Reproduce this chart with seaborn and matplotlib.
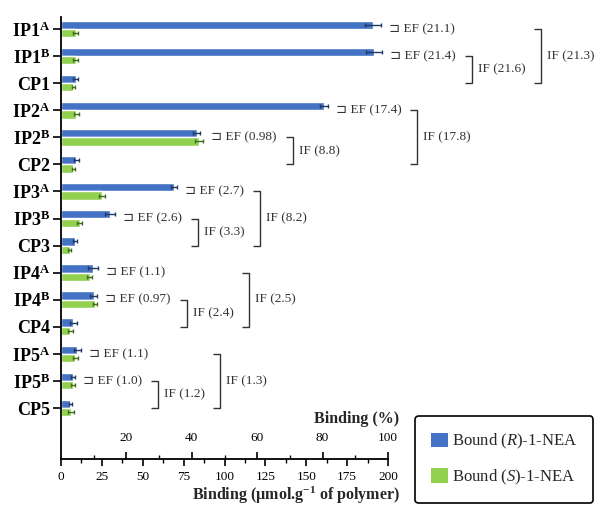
import matplotlib
matplotlib.use("Agg")
import matplotlib.pyplot as plt
import seaborn as sns
import pandas as pd
import numpy as np
from matplotlib.ticker import MultipleLocator, FixedLocator
from matplotlib.patches import Patch

# ---------------- data ----------------
categories = ["IP1A", "IP1B", "CP1", "IP2A", "IP2B", "CP2", "IP3A", "IP3B", "CP3",
              "IP4A", "IP4B", "CP4", "IP5A", "IP5B", "CP5"]
bound_R = [191, 191.5, 9.0, 161, 83, 9.3, 69, 30, 8.6, 19.6, 20.0, 7.5, 10.0, 7.3, 5.8]
bound_S = [9.0, 8.9, 7.5, 9.3, 84.5, 7.5, 25.0, 11.5, 5.3, 17.5, 20.8, 5.6, 8.8, 7.3, 6.0]
err_R = [5, 5, 1.5, 2.5, 2.0, 1.5, 2.0, 3.0, 1.0, 3.0, 2.0, 2.0, 2.0, 1.0, 1.2]
err_S = [1.5, 1.5, 1.0, 1.5, 2.5, 1.0, 2.0, 1.5, 1.0, 1.5, 1.5, 1.5, 1.5, 1.0, 2.0]
series_names = ["Bound (R)-1-NEA", "Bound (S)-1-NEA"]
legend_labels = [r"Bound ($\mathit{R}$)-1-NEA", r"Bound ($\mathit{S}$)-1-NEA"]
ef_values = ["21.1", "21.4", "17.4", "0.98", "2.7", "2.6", "1.1", "0.97", "1.1", "1.0"]
if_inner = ["21.6", "8.8", "3.3", "2.4", "1.2"]   # IP^B vs CP
if_outer = ["21.3", "17.8", "8.2", "2.5", "1.3"]  # IP^A vs CP
x_ticks_umol = [0, 25, 50, 75, 100, 125, 150, 175, 200]
x_ticks_pct = [20, 40, 60, 80, 100]

colors = ["#4472C4", "#92D050"]
err_colors = ["#1F3864", "#3F6B1E"]

# ---------------- style ----------------
sns.set_style("ticks")
plt.rcParams["font.family"] = ["Liberation Serif", "DejaVu Sans"]
plt.rcParams["mathtext.fontset"] = "custom"
plt.rcParams["mathtext.rm"] = "Liberation Serif"
plt.rcParams["mathtext.it"] = "Liberation Serif:italic"
plt.rcParams["mathtext.bf"] = "Liberation Serif:bold"

df = pd.DataFrame({
    "category": categories * 2,
    "series": [series_names[0]] * len(categories) + [series_names[1]] * len(categories),
    "binding": bound_R + bound_S,
})

fig = plt.figure(figsize=(5.95, 5.05), dpi=100)
ax = fig.add_axes([61 / 595, 1 - 459 / 505, (388 - 61) / 595, (459 - 17) / 505])

sns.barplot(data=df, y="category", x="binding", hue="series", orient="h",
            order=categories, hue_order=series_names, palette=colors,
            width=0.62, errorbar=None, legend=False, ax=ax, saturation=1)

# error bars at the bar ends, positions taken from the drawn bars
for cont, errs, ec in zip(ax.containers, [err_R, err_S], err_colors):
    ys = [b.get_y() + b.get_height() / 2 for b in cont]
    xs = [b.get_width() for b in cont]
    ax.errorbar(xs, ys, xerr=errs, fmt="none", ecolor=ec, elinewidth=1.0,
                capsize=1.5, capthick=1.0, zorder=3)

ax.set_xlim(0, 200)
ax.set_ylim(15.88, -0.44)
ax.set_ylabel("")

def tick_label(c):
    if c.endswith("A") or c.endswith("B"):
        return c[:-1] + r"$^{\mathbf{" + c[-1] + "}}$"
    return c

ax.set_yticks(range(len(categories)))
ax.set_yticklabels([tick_label(c) for c in categories], fontsize=13, fontweight="bold")
ax.tick_params(axis="y", length=6, width=1.2, pad=2, colors="black")

ax.xaxis.set_major_locator(FixedLocator(x_ticks_umol))
ax.xaxis.set_minor_locator(MultipleLocator(12.5))
ax.tick_params(axis="x", which="major", length=5, width=1.2, pad=4, labelsize=9.5,
               colors="black")
ax.tick_params(axis="x", which="minor", length=3, width=1.0, colors="black")
ax.set_xlabel(r"Binding (µmol.g$^{\mathbf{-1}}$ of polymer)", fontsize=11.5,
              fontweight="bold", x=1.035, ha="right", labelpad=1)

for s in ["top", "right"]:
    ax.spines[s].set_visible(False)
for s in ["left", "bottom"]:
    ax.spines[s].set_linewidth(1.3)
    ax.spines[s].set_color("black")

sec = ax.secondary_xaxis(0.0, functions=(lambda x: x / 2.0, lambda p: p * 2.0))
sec.set_alignment("top")
sec.xaxis.set_major_locator(FixedLocator(x_ticks_pct))
sec.xaxis.set_minor_locator(FixedLocator([10, 30, 50, 70, 90]))
sec.tick_params(axis="x", which="major", direction="out", length=5, width=1.2, pad=6,
                labelsize=9.5, colors="black")
sec.tick_params(axis="x", which="minor", direction="out", length=3, width=1.0,
                colors="black")
sec.spines["top"].set_visible(False)
sec.set_xlabel("Binding (%)", fontsize=11.5, fontweight="bold", x=1.035, ha="right",
               labelpad=6)

# ---------------- EF / IF annotations ----------------
fig.canvas.draw()
renderer = fig.canvas.get_renderer()
inv = ax.transData.inverted()

def disp(x, y):
    return ax.transData.transform((x, y))

def to_data(px, py):
    return inv.transform((px, py))

ann_font = dict(fontsize=9.5, color="#333333", family=["Liberation Serif", "DejaVu Sans"],
                va="center", ha="left", clip_on=False)
line_kw = dict(color="#333333", lw=1.0, clip_on=False, solid_capstyle="butt")
tick_px = 7

def bracket(xv_px, ya, yb):
    pa = to_data(xv_px - tick_px, disp(0, ya)[1])
    pb = to_data(xv_px, disp(0, ya)[1])
    xs = [pa[0], pb[0], pb[0], pa[0]]
    ys = [ya, ya, yb, yb]
    ax.plot(xs, ys, **line_kw)

ef_idx = 0
for g in range(5):
    iA, iB, iC = 3 * g, 3 * g + 1, 3 * g + 2
    ef_right = {}
    for i in (iA, iB):
        xend = max(bound_R[i] + err_R[i], bound_S[i] + err_S[i])
        px, py = disp(xend, i)
        dx, _ = to_data(px + 8, py)
        t = ax.text(dx, i, "⊐ EF (" + ef_values[ef_idx] + ")", **ann_font)
        ef_idx += 1
        ef_right[i] = t.get_window_extent(renderer).x1
    # inner bracket IP^B -> CP
    xv = ef_right[iB] + 9 + tick_px
    bracket(xv, iB, iC)
    tx, _ = to_data(xv + 6, 0)
    t_in = ax.text(tx, (iB + iC) / 2, "IF (" + if_inner[g] + ")", **ann_font)
    in_right = t_in.get_window_extent(renderer).x1
    # outer bracket IP^A -> CP
    xo = max(ef_right[iA], in_right) + 8 + tick_px
    bracket(xo, iA, iC)
    tx, _ = to_data(xo + 6, 0)
    ax.text(tx, (iA + iC) / 2, "IF (" + if_outer[g] + ")", **ann_font)

# ---------------- legend ----------------
handles = [Patch(facecolor=c, edgecolor="none") for c in colors]
leg = fig.legend(handles, legend_labels, loc="lower right",
                 bbox_to_anchor=(593 / 595, 2 / 505), bbox_transform=fig.transFigure,
                 borderaxespad=0, fontsize=12, frameon=True, fancybox=True,
                 handlelength=1.0, handleheight=1.0, handletextpad=0.25,
                 labelspacing=1.0, borderpad=0.95)
leg.get_frame().set_edgecolor("black")
leg.get_frame().set_linewidth(1.2)
leg.get_frame().set_alpha(1)

fig.savefig("out.png", dpi=100)
